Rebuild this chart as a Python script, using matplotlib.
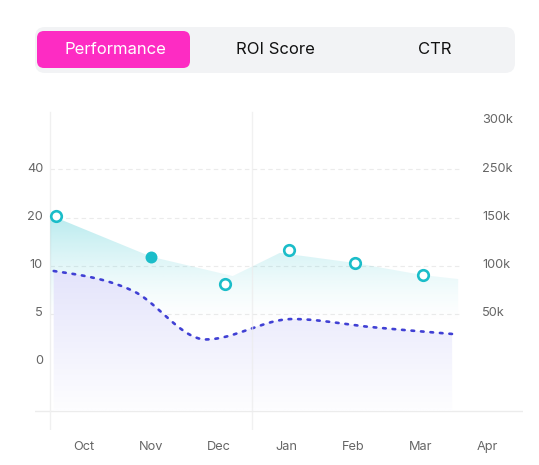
import numpy as np
import matplotlib
matplotlib.use('Agg')
import matplotlib.pyplot as plt
from matplotlib.patches import FancyBboxPatch, Polygon
from matplotlib import transforms as mtrans
from matplotlib.ticker import NullLocator

plt.rcParams['font.family'] = ['Inter', 'DejaVu Sans']

# ---------------- data ----------------
tabs = ['Performance', 'ROI Score', 'CTR']
months = ['Oct', 'Nov', 'Dec', 'Jan', 'Feb', 'Mar', 'Apr']

left_ticks = [0, 5, 10, 20, 40]
left_tick_labels = ['0', '5', '10', '20', '40']
right_scale_knots = [0, 50, 100, 150, 250, 300]
right_ticks = [50, 100, 150, 250, 300]
right_tick_labels = ['50k', '100k', '150k', '250k', '300k']

# teal markers (left axis)
teal_pos = [-0.42, 1.0, 2.09, 3.05, 4.03, 5.03]
teal_vals = [20.6, 11.9, 8.1, 13.2, 10.7, 9.05]
teal_filled = [False, True, False, False, False, False]

# teal area (left axis)
area_pos = [-0.5, 1.0, 2.21, 2.91, 4.03, 5.03, 5.56]
area_vals = [21.0, 11.9, 8.95, 12.7, 10.6, 9.05, 8.64]

# dashed series (right axis, thousands)
dash_pos = [-0.45, 0.73, 1.81, 3.1, 4.26, 5.47]
dash_vals = [94.7, 74.0, 23.7, 44.9, 36.6, 29.4]

# ---------------- style ----------------
TEAL = '#1bbdc9'
DASH = '#4040d4'
PINK = '#fd2cc3'
LABEL = '#666666'
FLOOR = -5  # left-scale value of the base line


def piecewise(kv, ks):
    kv = np.asarray(kv, float)
    ks = np.asarray(ks, float)

    def make(a, b):
        s0 = (b[1] - b[0]) / (a[1] - a[0])
        s1 = (b[-1] - b[-2]) / (a[-1] - a[-2])

        def f(v):
            v = np.asarray(v, float)
            out = np.interp(v, a, b)
            out = np.where(v < a[0], b[0] + (v - a[0]) * s0, out)
            out = np.where(v > a[-1], b[-1] + (v - a[-1]) * s1, out)
            return out
        return f
    return make(kv, ks), make(ks, kv)


lf, li = piecewise(left_ticks, range(len(left_ticks)))
rf, ri = piecewise(right_scale_knots, range(len(right_scale_knots)))


def monotone_x(x, y, n=40):
    x = np.asarray(x, float)
    y = np.asarray(y, float)
    h = np.diff(x)
    s = np.diff(y) / h
    t = np.zeros_like(y)
    for i in range(1, len(y) - 1):
        p = (s[i - 1] * h[i] + s[i] * h[i - 1]) / (h[i - 1] + h[i])
        t[i] = (np.sign(s[i - 1]) + np.sign(s[i])) * min(abs(s[i - 1]), abs(s[i]), 0.5 * abs(p))
    t[0] = (3 * s[0] - t[1]) / 2
    t[-1] = (3 * s[-1] - t[-2]) / 2
    xs, ys = [], []
    for i in range(len(x) - 1):
        u = np.linspace(0, 1, n, endpoint=(i == len(x) - 2))
        x0, x1 = x[i], x[i + 1]
        p0 = (x0, y[i])
        p1 = (x0 + h[i] / 3, y[i] + h[i] * t[i] / 3)
        p2 = (x1 - h[i] / 3, y[i + 1] - h[i] * t[i + 1] / 3)
        p3 = (x1, y[i + 1])
        bx = (1 - u) ** 3 * p0[0] + 3 * (1 - u) ** 2 * u * p1[0] + 3 * (1 - u) * u ** 2 * p2[0] + u ** 3 * p3[0]
        by = (1 - u) ** 3 * p0[1] + 3 * (1 - u) ** 2 * u * p1[1] + 3 * (1 - u) * u ** 2 * p2[1] + u ** 3 * p3[1]
        xs.append(bx)
        ys.append(by)
    return np.concatenate(xs), np.concatenate(ys)


W, H = 539, 465
fig = plt.figure(figsize=(W / 100, H / 100), dpi=100)

# ---------------- tab bar ----------------
bar = fig.add_axes([0, 0, 1, 1])
bar.set_xlim(0, W)
bar.set_ylim(H, 0)
bar.axis('off')
bar.add_patch(FancyBboxPatch((35, 27), 480, 46, boxstyle='round,pad=0,rounding_size=10',
                             fc='#f2f3f5', ec='none'))
bar.add_patch(FancyBboxPatch((37, 31), 153, 37, boxstyle='round,pad=0,rounding_size=7',
                             fc=PINK, ec='none'))
for i, t in enumerate(tabs):
    bar.text(35 + 80 + 160 * i, 49.5, t, ha='center', va='center', fontsize=12.0,
             color='white' if i == 0 else '#111111')

# ---------------- chart axes ----------------
px_l, px_r, px_t, px_b = 35, 523, 110, 430
ax = fig.add_axes([px_l / W, 1 - px_b / H, (px_r - px_l) / W, (px_b - px_t) / H])
ax2 = ax.twinx()
ax.patch.set_alpha(0)

ax.set_yscale('function', functions=(lf, li))
ax2.set_yscale('function', functions=(rf, ri))
for a in (ax, ax2):
    for sp in a.spines.values():
        sp.set_visible(False)
    a.set_yticks([])
    a.yaxis.set_minor_locator(NullLocator())
    a.tick_params(axis='y', which='both', length=0, labelleft=False, labelright=False)

# grid
ax.hlines(left_ticks[1:], -0.505, 5.62, colors='#ebebeb', lw=0.8, linestyles=(0, (4, 3)), zorder=0)
ax.axhline(FLOOR, color='#ececec', lw=1.0, zorder=0)
ax.axvline(-0.5, ymax=0.995, color='#f0f0f0', lw=1.0, zorder=0)
ax2.axvline(2.5, ymax=0.995, color='#ececec', lw=1.0, alpha=0.7, zorder=5)

# teal area with gradient
fy = np.linspace(0, 1, 400)[:, None]
f_top = (px_b - 214) / (px_b - px_t)
f_bot = (px_b - 325) / (px_b - px_t)
alpha = 0.32 * np.clip((fy - f_bot) / (f_top - f_bot), 0, 1) ** 1.5
teal_rgb = matplotlib.colors.to_rgb(TEAL)
grad = np.zeros((400, 2, 4))
grad[..., 0], grad[..., 1], grad[..., 2] = teal_rgb
grad[..., 3] = alpha
verts = list(zip(area_pos, area_vals)) + [(area_pos[-1], FLOOR), (area_pos[0], FLOOR)]
tpoly = Polygon(verts, closed=True, transform=ax.transData)
im = ax.imshow(grad, extent=[0, 1, 0, 1], transform=ax.transAxes, aspect='auto',
               origin='lower', zorder=1, interpolation='bilinear')
im.set_clip_path(tpoly)

# lavender area + dashed line on right axis
dx, dy = monotone_x(dash_pos, dash_vals)
floor_r = ri(lf(FLOOR))
lverts = list(zip(dx, dy)) + [(dx[-1], float(floor_r)), (dx[0], float(floor_r))]
lpoly = Polygon(lverts, closed=True, transform=ax2.transData)
c_top = np.array(matplotlib.colors.to_rgb('#e4e4fb'))
c_bot = np.array(matplotlib.colors.to_rgb('#fdfdff'))
g_top = (px_b - 272) / (px_b - px_t)
g_bot = (px_b - 408) / (px_b - px_t)
w = np.clip((fy - g_bot) / (g_top - g_bot), 0, 1)
lgrad = np.zeros((400, 2, 4))
for k in range(3):
    lgrad[..., k] = c_bot[k] + (c_top[k] - c_bot[k]) * w
lgrad[..., 3] = 1.0
im2 = ax2.imshow(lgrad, extent=[0, 1, 0, 1], transform=ax2.transAxes, aspect='auto',
                 origin='lower', zorder=1, interpolation='bilinear')
im2.set_clip_path(lpoly)
ax2.plot(dx, dy, color=DASH, lw=1.9, linestyle=(0, (1.0, 2.6)), dash_capstyle='round', zorder=3)

# teal markers (left-axis values placed via the two scales)
for xp, v, filled in zip(teal_pos, teal_vals, teal_filled):
    yv = float(ri(lf(v)))
    if filled:
        ax2.plot([xp], [yv], 'o', ms=8.6, mfc=TEAL, mec=TEAL, mew=0, zorder=6)
    else:
        ax2.plot([xp], [yv], 'o', ms=7.6, mfc='white', mec=TEAL, mew=1.9, zorder=6)

# limits
s_top = (362.3 - px_t) / 48.2
s_bot = (362.3 - px_b) / 48.2
ax.set_xlim((px_l - 84) / 67.3, (px_r - 84) / 67.3)
ax.set_ylim(float(li(s_bot)), float(li(s_top)))
ax2.set_ylim(float(ri(s_bot)), float(ri(s_top)))

# x ticks
ax.set_xticks(range(len(months)), months)
ax.tick_params(axis='x', length=0, pad=8.0, labelsize=9.2, labelcolor=LABEL)
ax2.tick_params(axis='x', length=0)

# y labels
off = mtrans.ScaledTranslation(0, 0.008, fig.dpi_scale_trans)
tl = mtrans.blended_transform_factory(ax.transAxes, ax.transData) + off
tr = mtrans.blended_transform_factory(ax2.transAxes, ax2.transData) + off
for v, lab in zip(left_ticks, left_tick_labels):
    ax.text((43 - px_l) / (px_r - px_l), v, lab, ha='right', va='center', fontsize=9.2,
            color=LABEL, transform=tl)
for v, lab in zip(right_ticks, right_tick_labels):
    ax2.text((482 - px_l) / (px_r - px_l), v, lab, ha='left', va='center', fontsize=9.2,
             color=LABEL, transform=tr)

fig.savefig('out.png', dpi=100)
